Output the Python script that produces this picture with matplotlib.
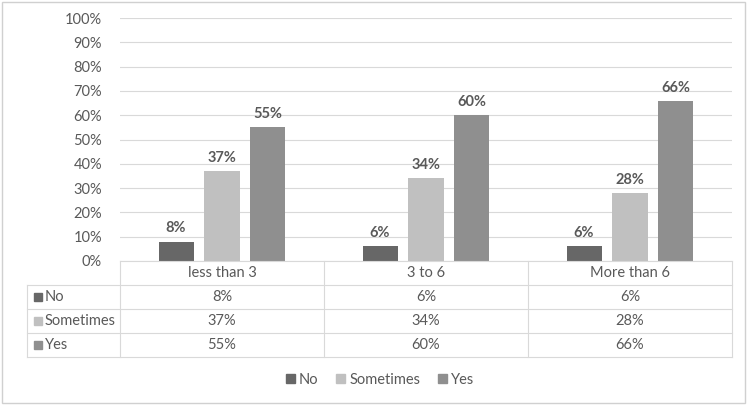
import matplotlib.pyplot as plt
import numpy as np
from matplotlib.patches import Rectangle

categories = ['less than 3', '3 to 6', 'More than 6']
series = ['No', 'Sometimes', 'Yes']
no_vals = [8, 6, 6]
sometimes_vals = [37, 34, 28]
yes_vals = [55, 60, 66]
colors = ['#676767', '#c0c0c0', '#8f8f8f']

plt.rcParams['font.family'] = ['Lato', 'DejaVu Sans']
W, H = 750, 405
fig = plt.figure(figsize=(7.5, 4.05), dpi=100)

def fx(px):
    return px / W

def fy(py):
    return 1 - py / H

# outer border
fig.patches.append(Rectangle((fx(1.5), fy(403)), fx(743), fy(1.5) - fy(403),
                             transform=fig.transFigure, fill=False, ec='#d0d0d0', lw=1))

left, right, top, bottom = 120, 732, 18, 261
ax = fig.add_axes([fx(left), fy(bottom), fx(right - left), fy(top) - fy(bottom)])
x = np.arange(len(categories))
values = [no_vals, sometimes_vals, yes_vals]
offsets = [-0.225, 0, 0.225]
for vals, off, c in zip(values, offsets, colors):
    bars = ax.bar(x + off, vals, width=0.172, color=c, zorder=3)
    for b, v in zip(bars, vals):
        ax.text(b.get_x() + b.get_width() / 2, v + 2.5, f'{v}%', ha='center', va='bottom',
                fontsize=10.5, fontweight='bold', color='#595959')
ax.set_xlim(-0.5, 2.5)
ax.set_ylim(0, 100)
ax.set_yticks(range(0, 101, 10))
ax.set_yticklabels([f'{t}%' for t in range(0, 101, 10)], fontsize=10.5, color='#595959')
ax.set_xticks([])
ax.tick_params(axis='y', length=0, pad=13)
ax.grid(axis='y', color='#d9d9d9', lw=0.8, zorder=0)
for s in ax.spines.values():
    s.set_visible(False)

# data table
line_kw = dict(color='#d9d9d9', lw=0.8, transform=fig.transFigure)
lab_left = 27
rows_y = [261, 285, 309, 333, 357]
col_w = (right - left) / len(categories)
col_x = [left + i * col_w for i in range(len(categories) + 1)]
fig.add_artist(plt.Line2D([fx(left), fx(right)], [fy(261), fy(261)], **line_kw))
for yy in rows_y[1:]:
    fig.add_artist(plt.Line2D([fx(lab_left), fx(right)], [fy(yy), fy(yy)], **line_kw))
fig.add_artist(plt.Line2D([fx(lab_left), fx(lab_left)], [fy(285), fy(357)], **line_kw))
for cx in col_x:
    fig.add_artist(plt.Line2D([fx(cx), fx(cx)], [fy(261), fy(357)], **line_kw))

for i, cat in enumerate(categories):
    fig.text(fx(col_x[i] + col_w / 2), fy(273), cat, ha='center', va='center', fontsize=10.5, color='#595959')
for r, (name, vals, c) in enumerate(zip(series, values, colors)):
    yc = (rows_y[r + 1] + rows_y[r + 2]) / 2
    fig.patches.append(Rectangle((fx(34), fy(yc + 4)), fx(8), fy(yc - 4) - fy(yc + 4),
                                 transform=fig.transFigure, color=c))
    fig.text(fx(45), fy(yc), name, ha='left', va='center', fontsize=10.5, color='#595959')
    for i, v in enumerate(vals):
        fig.text(fx(col_x[i] + col_w / 2), fy(yc), f'{v}%', ha='center', va='center', fontsize=10.5, color='#595959')

# legend
handles = [Rectangle((0, 0), 1, 1, color=c) for c in colors]
fig.legend(handles, series, loc='center', bbox_to_anchor=(fx(380), fy(380)), ncol=3, frameon=False,
           fontsize=10.5, handlelength=0.6, handleheight=0.6, handletextpad=0.3, columnspacing=1.2,
           labelcolor='#595959')

fig.savefig('out.png', dpi=100)
